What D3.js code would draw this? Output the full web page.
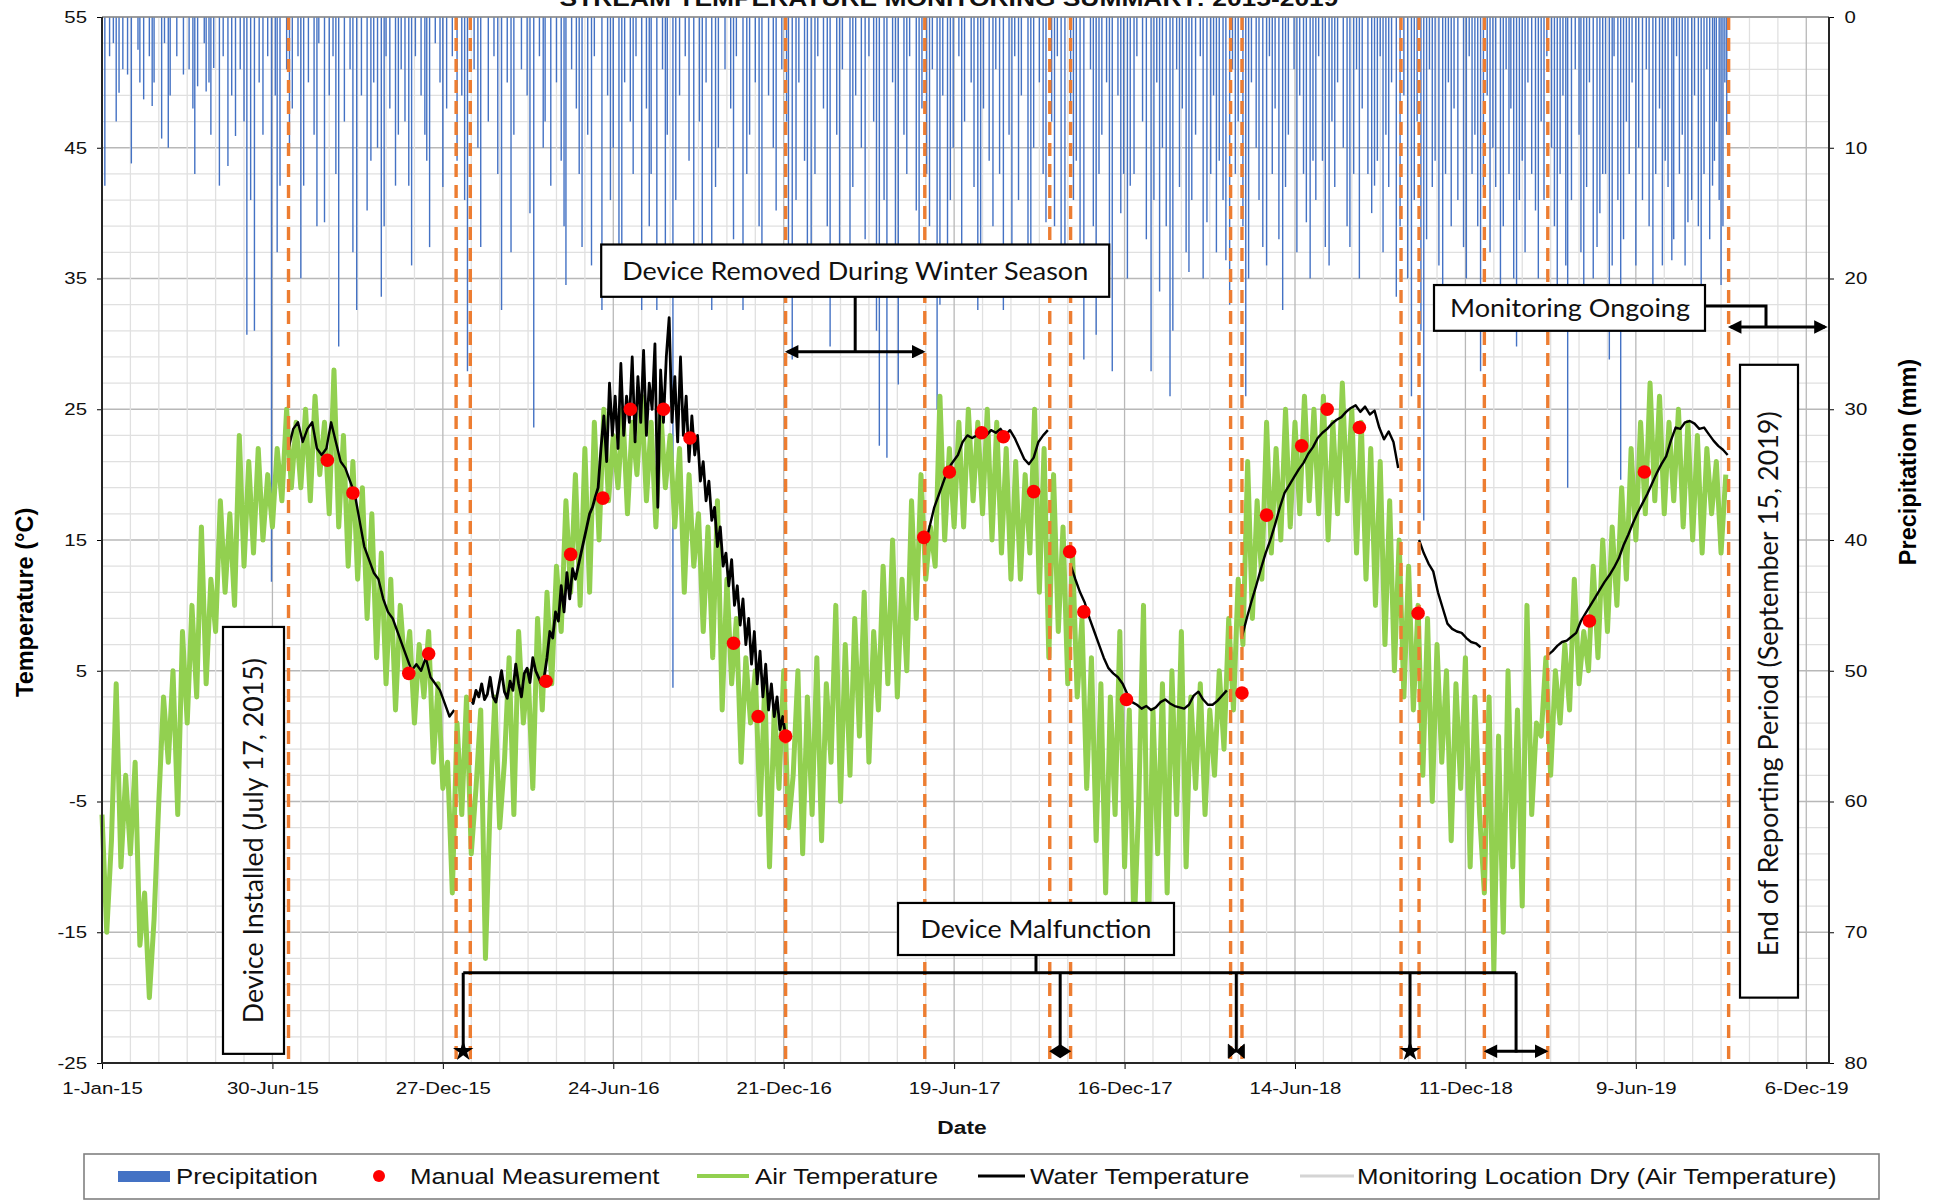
<!DOCTYPE html>
<html>
<head>
<meta charset="utf-8">
<title>Stream Temperature Monitoring Summary</title>
<script src="https://cdn.jsdelivr.net/npm/d3@7"></script>
<style>
  body { margin: 0; background: #fff; }
  svg { display: block; font-family: "Liberation Sans", Arial, sans-serif; }
  .note { font-family: Lato, "Open Sans", sans-serif; fill: #111; }
</style>
</head>
<body>
<svg id="chart" width="1942" height="1201"></svg>
<script>
// air temperature, one reading every 5 days from 1-Jan-15
const airStep = 5
const airTemp = [
  -6, -15, -8, 4, -10, -3,   -9, -2, -16, -12, -20, -14,   -5, 3, -2, 5, -6, 8,
  1, 10, 3, 16, 4, 12,   8, 18, 11, 17, 10, 23,   13, 21, 14, 22, 15, 20,
  16, 22, 18, 25, 19, 24,   19, 25, 18, 26, 20, 24,   17, 28, 16, 23, 13, 21,
  12, 19, 9, 17, 6, 14,   4, 12, 2, 10, 5, 8,   1, 7, 3, 8, -2, 4, -4,
  -2, -12, 1, -6, 3, -9,   -4, 2, -17, -5, 3, -7,   -2, 6, -6, 8, 1, 5,
  -4, 9, 2, 11, 4, 13,   8, 18, 11, 20, 10, 22,   11, 24, 15, 25, 18, 23,
  19, 25, 17, 24, 20, 26,   18, 24, 16, 25, 19, 23,   16, 22, 11, 20, 13, 17,
  8, 16, 6, 18, 2, 12,   4, 9, -2, 6, 1, 5,   -6, 4, -10, 2, -4, 5, -7,
  -3, 5, -9, 3, -6, 6,   -8, 4, -2, 10, -5, 7,   -3, 9, 0, 11, -2, 8,
  2, 13, 4, 15, 3, 12,   5, 18, 9, 20, 12, 16,   13, 26, 15, 22, 16, 24,
  16, 25, 18, 24, 17, 25,   15, 24, 14, 22, 12, 21,   12, 20, 14, 25, 11, 22,
  6, 20, 8, 16, 4, 14,   3, 9, -4, 6, -8, 4,   -12, 3, -6, 8, -10, 2, -15,
  -5, 10, -16, 2, -9, 4,   -12, 5, -6, 8, -10, 3,   -4, 4, -6, 2, -3, 5,
  -1, 9, 2, 12, 7, 21,   9, 18, 12, 24, 14, 22,   15, 25, 16, 24, 17, 26,
  18, 25, 17, 26, 15, 24,   17, 27, 18, 25, 14, 24,   12, 22, 10, 21, 7, 18,
  5, 15, 3, 13, 2, 10,   -3, 9, -5, 7, -2, 5,   -8, 4, -4, 6, -10, 3, -6,
  -12, 3, -18, 0, -15, 5,   -10, 2, -13, 10, -6, 1,   0, 6, -3, 5, 1, 7,
  2, 12, 4, 8, 5, 13,   6, 15, 8, 16, 10, 19,   12, 22, 15, 24, 17, 27,
  18, 26, 17, 24, 18, 25,   16, 24, 15, 23, 14, 22,   17, 21, 14, 20
]

// water temperature logger, one run per deployment
const waterStarts = ['2015-07-17', '2016-01-25', '2017-05-19', '2017-10-20', '2018-04-19', '2018-10-23', '2019-03-08']
const waterSteps = [5, 3, 5, 5, 5, 5, 5]
const waterTemps = [
  [22, 23.5, 24, 22.5, 23.5, 24, 22, 21.5, 22, 24, 22.5, 21, 20.5, 19.5, 18.5, 16.5, 14.5, 13.5,
   12.5, 12, 10.5, 9.5, 9, 8, 7, 6, 5, 5.5, 5, 6, 4.5, 4, 3.5, 2.5, 1.5, 2],
  [3, 2.5, 3.5, 3, 4, 2.8, 3.2, 4.5, 3, 2.6, 3.8, 5, 3.4, 2.9, 4.2, 3.5, 5.5, 4, 3, 4.8, 5.2, 4.1, 6, 5, 4.5, 4,
   4.5, 6, 8, 7.5, 9.5, 8.8, 11.5, 9.5, 12.5, 10.5, 12.8, 12, 13, 14, 15, 16, 17, 17.5, 18.3, 19,
   22, 24.5, 21, 27, 23, 26, 22, 28.5, 23, 26, 24, 29, 22.5, 27.5, 24, 29.5, 23, 27, 25, 30,
   17.5, 28, 24, 29, 32, 24, 27.5, 22.5, 29, 23, 26, 21, 24.5, 21.5, 23, 19.5, 21, 18, 19.5, 16.5,
   17.5, 14.5, 16, 13, 14, 11.5, 13.5, 10, 11.5, 8.5, 10.5, 7, 9, 5.5, 8, 4, 6.5, 3, 5.5, 2, 4,
   1.5, 3, 0.5, 1.5, 0],
  [14.5, 16, 17.5, 18.5, 19.5, 20.5, 21, 21.5, 22.5, 23, 22.8, 23, 23.3, 23, 23.4, 23.2, 23.5, 23,
   23.4, 22.8, 22, 21.2, 20.8, 21.3, 22.5, 23, 23.4],
  [13.1, 12, 11, 10.2, 9, 8, 7, 6, 5.2, 4.8, 4.5, 4, 3.2, 2.6, 2.4, 2.1, 2.3, 2, 2.2, 2.6, 2.8, 2.5,
   2.3, 2.2, 2.1, 2.4, 3.1, 3.4, 2.8, 2.4, 2.4, 2.7, 3.1, 3.5],
  [7.6, 9, 10.3, 11.5, 12.8, 14, 15, 16.2, 17.5, 18.6, 19.2, 19.8, 20.4, 20.9, 21.6, 22.1, 22.8, 23.2,
   23.5, 23.9, 24.2, 24.4, 24.8, 25.1, 25.3, 24.8, 25.2, 24.6, 24.9, 23.6, 22.7, 23.3, 22.5, 20.5],
  [15, 14, 13.2, 12.6, 11, 9.8, 8.6, 8.2, 8, 7.9, 7.5, 7.2, 7.1, 6.8],
  [6.2, 6.5, 6.9, 7.2, 7.3, 7.6, 7.9, 8.8, 9.4, 10, 10.6, 11.2, 11.8, 12.3, 12.9, 13.6, 14.6, 15.4,
   16.3, 17.1, 17.8, 18.5, 19.3, 20.1, 20.8, 21.4, 22.6, 23.6, 23.5, 24, 24.1, 23.9, 23.5, 23.6,
   23.1, 22.6, 22.2, 21.9, 21.5]
]

const manualDates = ['2015-08-27', '2015-09-23', '2015-11-21', '2015-12-12', '2016-04-14', '2016-05-10',
  '2016-06-13', '2016-07-12', '2016-08-16', '2016-09-13', '2016-10-29', '2016-11-24', '2016-12-23',
  '2017-05-18', '2017-06-14', '2017-07-18', '2017-08-10', '2017-09-11', '2017-10-19', '2017-11-03',
  '2017-12-18', '2018-04-19', '2018-05-15', '2018-06-21', '2018-07-18', '2018-08-21', '2018-10-22',
  '2019-04-21', '2019-06-18']
const manualTemps = [21.1, 18.6, 4.8, 6.3, 4.2, 13.9, 18.2, 25, 25, 22.8, 7.1, 1.5, 0,
  15.2, 20.2, 23.2, 22.9, 18.7, 14.1, 9.5, 2.8, 3.3, 16.9, 22.2, 25, 23.6, 9.4, 8.8, 20.2]

// [days since 1-Jan-15, mm]
const precipitation = [
  [3, 12.9], [8, 3], [12, 2], [15, 8], [18, 5.8], [22, 4], [27, 4.4], [31, 11.2], [38, 2.5], [40, 5],
  [44, 6.3], [50, 3], [53, 6.8], [55, 5], [63, 9.3], [66, 2], [70, 10], [72, 6], [79, 3], [86, 4.4],
  [92, 4], [96, 7], [98, 12], [101, 5.3], [108, 2], [110, 5.7], [113, 5], [115, 9], [118, 3.9],
  [124, 12.9], [128, 3], [133, 11.4], [137, 6], [141, 9.1], [146, 4], [150, 8], [153, 24.3], [157, 14],
  [161, 24], [166, 5], [170, 9], [175, 3], [179, 43.2], [183, 6], [185, 18], [188, 12.9], [195, 4],
  [198, 10], [201, 7], [207, 3], [210, 20], [213, 12.9], [218, 5], [224, 9], [227, 16], [229, 2],
  [235, 15.7], [240, 6], [244, 3], [247, 12], [250, 25.2], [256, 8], [262, 4], [265, 18], [269, 22.4],
  [274, 6], [280, 14.8], [284, 11], [287, 5], [291, 10], [295, 21.4], [298, 16], [300, 3], [304, 7],
  [310, 12.9], [313, 9], [316, 4], [320, 8], [324, 12.9], [327, 19], [331, 3], [337, 6], [341, 9],
  [343, 11], [346, 17.6], [352, 2], [357, 5], [360, 13], [364, 7], [370, 3], [375, 11], [380, 6],
  [383, 14], [386, 27.1], [393, 4], [397, 10], [400, 17.6], [408, 8], [414, 3], [418, 12], [422, 22.4],
  [428, 5], [432, 18], [435, 9], [443, 4], [449, 6], [452, 15], [456, 31.4], [462, 3], [466, 10],
  [468, 8], [474, 12.9], [480, 5], [485, 11], [488, 16], [490, 20.5], [496, 4], [501, 7], [504, 12],
  [507, 17.6], [513, 9], [517, 19], [520, 3], [528, 22.4], [534, 6], [537, 14], [540, 10], [546, 17.6],
  [549, 20], [552, 5], [558, 8], [561, 12], [564, 3], [570, 22.4], [575, 7], [578, 16], [580, 12],
  [586, 22.4], [592, 4], [595, 18], [597, 9], [603, 51.3], [606, 14], [610, 6], [616, 3], [620, 11],
  [625, 17.6], [631, 8], [634, 19], [638, 5], [644, 22.4], [648, 13], [651, 10], [658, 4], [664, 7],
  [667, 17], [670, 3], [677, 22.4], [681, 12], [684, 9], [690, 5], [694, 16], [697, 20.5], [704, 6],
  [709, 10], [712, 14.8], [718, 4], [723, 8], [725, 18], [729, 26.2], [733, 14], [736, 5], [742, 11],
  [745, 19], [749, 21.4], [753, 12], [756, 3], [762, 7], [766, 16], [769, 25.2], [776, 9], [779, 20],
  [782, 4], [790, 18.6], [793, 13], [796, 6], [802, 10], [806, 17], [810, 3], [815, 8], [818, 24],
  [821, 32.8], [826, 14], [829, 33.7], [835, 5], [838, 18], [841, 28.1], [847, 9], [850, 12], [853, 3],
  [860, 14.8], [863, 20], [866, 7], [871, 12], [874, 16], [877, 4], [882, 30], [885, 22], [888, 6],
  [893, 17.6], [896, 14], [899, 10], [905, 3], [908, 18], [911, 8], [918, 5], [921, 13], [925, 22.4],
  [928, 20], [931, 7], [937, 11], [941, 16], [944, 4], [948, 12], [952, 22.4], [958, 9], [961, 19],
  [964, 3], [968, 14], [971, 6], [978, 17.6], [981, 21], [984, 10], [990, 5], [994, 12], [997, 15.7],
  [1003, 8], [1006, 16], [1009, 3], [1013, 20], [1017, 17.6], [1023, 7], [1026, 14], [1029, 11],
  [1033, 19], [1037, 26.2], [1044, 4], [1047, 16], [1050, 24.3], [1053, 12], [1056, 9], [1061, 5],
  [1064, 19], [1067, 27.1], [1073, 6], [1076, 15], [1079, 12], [1083, 20], [1086, 12.9], [1090, 12],
  [1093, 3], [1099, 8], [1103, 17], [1108, 27.1], [1111, 14], [1114, 5], [1117, 21], [1120, 10],
  [1124, 16], [1128, 29], [1131, 24], [1135, 4], [1138, 13], [1141, 7], [1145, 18], [1148, 19.5],
  [1151, 14], [1155, 9], [1160, 3], [1163, 20], [1167, 15.7], [1171, 12], [1174, 6], [1177, 18],
  [1180, 11], [1184, 14], [1187, 18.6], [1191, 22], [1194, 4], [1197, 12], [1200, 8], [1205, 16],
  [1208, 29], [1211, 20], [1214, 5], [1219, 10], [1222, 14], [1226, 17.6], [1230, 19], [1233, 3],
  [1236, 12], [1239, 7], [1243, 17], [1247, 22.4], [1250, 13], [1253, 9], [1259, 4], [1262, 18],
  [1265, 6], [1269, 12], [1272, 15.7], [1276, 20], [1279, 11], [1282, 14], [1285, 3], [1289, 11],
  [1292, 17.6], [1296, 19], [1299, 8], [1302, 13], [1305, 5], [1311, 10], [1315, 16], [1318, 17.6],
  [1322, 12], [1325, 4], [1328, 20], [1331, 7], [1337, 12], [1341, 15], [1344, 12.9], [1347, 11],
  [1350, 3], [1353, 18], [1356, 9], [1359, 13], [1362, 5], [1367, 21.4], [1371, 16], [1375, 6],
  [1379, 20], [1383, 29], [1386, 14], [1389, 8], [1393, 24], [1396, 38.5], [1399, 17], [1402, 4],
  [1405, 13], [1408, 11], [1412, 19], [1416, 22.4], [1419, 12], [1422, 5], [1425, 16], [1428, 7],
  [1432, 14], [1438, 17.6], [1441, 20], [1444, 3], [1447, 12], [1450, 9], [1453, 16], [1456, 27.1],
  [1459, 13], [1463, 6], [1466, 18], [1469, 10], [1472, 13], [1477, 22.4], [1480, 16], [1483, 4],
  [1486, 12], [1488, 7], [1491, 20], [1494, 25.2], [1497, 14], [1500, 11], [1503, 18], [1506, 5],
  [1510, 12], [1514, 14.8], [1517, 20], [1520, 8], [1523, 14], [1526, 3], [1531, 10], [1534, 16],
  [1537, 23.3], [1540, 12], [1543, 6], [1546, 19], [1548, 36], [1552, 14], [1556, 4], [1560, 9],
  [1562, 18], [1565, 22.4], [1568, 13], [1571, 5], [1575, 20], [1579, 17.6], [1582, 15], [1585, 12],
  [1588, 12], [1592, 26.2], [1595, 19], [1597, 3], [1601, 14], [1604, 35.4], [1607, 17], [1610, 8],
  [1613, 12], [1616, 5], [1620, 19], [1623, 10], [1627, 14], [1631, 4], [1634, 16], [1638, 23.3],
  [1641, 12], [1645, 7], [1648, 19], [1651, 11], [1654, 13], [1658, 18.6], [1660, 17], [1663, 3],
  [1666, 12], [1669, 9], [1672, 19], [1675, 15.7], [1679, 14], [1682, 6], [1686, 16], [1689, 21.4],
  [1692, 12], [1695, 4], [1698, 17], [1701, 12.9], [1703, 11], [1705, 8], [1708, 14], [1710, 20.5],
  [1712, 16], [1714, 5], [1716, 9]
]

// orange dashed event lines
const eventDates = ['2015-07-17', '2016-01-10', '2016-01-25', '2016-12-23', '2017-05-19', '2017-09-28',
  '2017-10-20', '2018-04-07', '2018-04-19', '2018-10-04', '2018-10-23', '2018-12-31', '2019-03-08',
  '2019-09-15']

const xTickDays = d3.range(0, 1801, 180)
const tempTicks = d3.range(-25, 56, 10)
const precipTicks = d3.range(0, 81, 10)

const legendItems = ['Precipitation', 'Manual Measurement', 'Air Temperature', 'Water Temperature',
  'Monitoring Location Dry (Air Temperature)']

// ---------------------------------------------------------------------------

const pL = 102, pR = 1829, pT = 17, pB = 1063
const start = new Date(2015, 0, 1)
const day = n => d3.timeDay.offset(start, n)
const parse = d3.timeParse('%Y-%m-%d')
const sx = 1.2   // the source text is a little wide

const x = d3.scaleTime().domain([start, day(1824)]).range([pL, pR])
const yT = d3.scaleLinear().domain([-25, 55]).range([pB, pT])
const yP = d3.scaleLinear().domain([0, 80]).range([pT, pB])

const svg = d3.select('#chart')

const defs = svg.append('defs')
defs.append('marker')
  .attr('id', 'arrow')
  .attr('viewBox', '0 0 10 10')
  .attr('refX', 8).attr('refY', 5)
  .attr('markerWidth', 5.5).attr('markerHeight', 4.5)
  .attr('orient', 'auto-start-reverse')
  .append('path').attr('d', 'M0,0L10,5L0,10z').attr('fill', '#000')

// grid
const grid = svg.append('g')
grid.selectAll('line.h').data(d3.range(-25, 56, 2)).join('line')
  .attr('x1', pL).attr('x2', pR)
  .attr('y1', d => yT(d)).attr('y2', d => yT(d))
  .attr('stroke', d => (d + 25) % 10 === 0 ? '#b8b8b8' : '#e0e0e0')
  .attr('stroke-width', 1.3)
grid.selectAll('line.v').data(d3.range(30, 1824, 30)).join('line')
  .attr('x1', d => x(day(d))).attr('x2', d => x(day(d)))
  .attr('y1', pT).attr('y2', pB)
  .attr('stroke', d => d % 180 === 0 ? '#b8b8b8' : '#e0e0e0')
  .attr('stroke-width', 1.3)

// precipitation hangs from the top
svg.append('g').selectAll('line').data(precipitation).join('line')
  .attr('x1', d => x(day(d[0]))).attr('x2', d => x(day(d[0])))
  .attr('y1', yP(0)).attr('y2', d => yP(d[1]))
  .attr('stroke', '#4472c4').attr('stroke-width', 1.4)

// air temperature
const airLine = d3.line()
  .x((d, i) => x(day(i * airStep)))
  .y(d => yT(d))
svg.append('path').datum(airTemp)
  .attr('d', airLine)
  .attr('fill', 'none').attr('stroke', '#92d050')
  .attr('stroke-width', 5).attr('stroke-linejoin', 'round')

// water temperature
waterTemps.forEach((vals, k) => {
  const s = parse(waterStarts[k])
  const line = d3.line()
    .x((d, i) => x(d3.timeDay.offset(s, i * waterSteps[k])))
    .y(d => yT(d))
  svg.append('path').datum(vals)
    .attr('d', line)
    .attr('fill', 'none').attr('stroke', '#000')
    .attr('stroke-width', k === 1 ? 2.8 : 2.4).attr('stroke-linejoin', 'round')
})

// event lines
svg.append('g').selectAll('line').data(eventDates).join('line')
  .attr('x1', d => x(parse(d))).attr('x2', d => x(parse(d)))
  .attr('y1', pT).attr('y2', pB)
  .attr('stroke', '#ed7d31').attr('stroke-width', 3.4)
  .attr('stroke-dasharray', '13 8')

// manual measurements
svg.append('g').selectAll('circle').data(manualDates).join('circle')
  .attr('cx', d => x(parse(d)))
  .attr('cy', (d, i) => yT(manualTemps[i]))
  .attr('r', 6.8).attr('fill', '#ff0000')

// axes
const stretch = sel => sel.selectAll('text').attr('transform', `scale(${sx},1)`)
svg.append('g')
  .attr('transform', `translate(${pL},0)`)
  .call(d3.axisLeft(yT).tickValues(tempTicks).tickFormat(d => String(d)).tickSize(5).tickPadding(7.5))
  .call(g => g.select('.domain').remove())
  .call(g => g.selectAll('text').attr('font-size', 17).attr('fill', '#111'))
  .call(stretch)
svg.append('g')
  .attr('transform', `translate(${pR},0)`)
  .call(d3.axisRight(yP).tickValues(precipTicks).tickSize(5).tickPadding(8))
  .call(g => g.select('.domain').remove())
  .call(g => g.selectAll('text').attr('font-size', 17).attr('fill', '#111'))
  .call(stretch)
svg.append('g')
  .attr('transform', `translate(0,${pB})`)
  .call(d3.axisBottom(x).tickValues(xTickDays.map(day)).tickFormat(d3.timeFormat('%-d-%b-%y'))
    .tickSize(6).tickPadding(13))
  .call(g => g.select('.domain').remove())
  .call(g => g.selectAll('text').attr('font-size', 17).attr('fill', '#111'))
  .call(stretch)

svg.append('line').attr('x1', pL).attr('x2', pR).attr('y1', pT).attr('y2', pT)
  .attr('stroke', '#8c8c8c').attr('stroke-width', 1.5)
svg.append('path')
  .attr('d', `M${pL},${pT}V${pB}H${pR}V${pT}`)
  .attr('fill', 'none').attr('stroke', '#262626').attr('stroke-width', 2)

function wide(str, px, py, size, anchor, weight) {
  return svg.append('text')
    .attr('transform', `translate(${px},${py}) scale(${sx},1)`)
    .attr('text-anchor', anchor).attr('font-size', size)
    .attr('font-weight', weight || 'normal').attr('fill', '#111')
    .text(str)
}

// titles (the chart title sits partly above the page edge, as in the source)
wide('STREAM TEMPERATURE MONITORING SUMMARY: 2015-2019', 949, 6, 22, 'middle', 'bold')
wide('Date', 962, 1134, 19, 'middle', 'bold')
svg.append('text')
  .attr('transform', `translate(33,${(yT(15) + yT(5)) / 2 - 3}) rotate(-90)`)
  .attr('text-anchor', 'middle').attr('font-size', 23.5).attr('font-weight', 'bold')
  .text('Temperature (°C)')
svg.append('text')
  .attr('transform', `translate(1916,${yP(40) - 78}) rotate(-90)`)
  .attr('text-anchor', 'middle').attr('font-size', 23.5).attr('font-weight', 'bold')
  .text('Precipitation (mm)')

// annotations
function box(x0, x1, y0, y1) {
  svg.append('rect')
    .attr('x', x0).attr('y', y0).attr('width', x1 - x0).attr('height', y1 - y0)
    .attr('fill', '#fff').attr('stroke', '#000').attr('stroke-width', 2.2)
}
function note(str, px, py, len, size, rotate) {
  return svg.append('text').attr('class', 'note')
    .attr('transform', `translate(${px},${py})` + (rotate ? ' rotate(-90)' : ''))
    .attr('text-anchor', 'middle').attr('font-size', size)
    .attr('textLength', len).attr('lengthAdjust', 'spacingAndGlyphs')
    .text(str)
}
function path(d, arrows) {
  const p = svg.append('path').attr('d', d)
    .attr('fill', 'none').attr('stroke', '#000').attr('stroke-width', 3)
  if (arrows) p.attr('marker-start', 'url(#arrow)').attr('marker-end', 'url(#arrow)')
  return p
}
const ev = eventDates.map(parse)
const mid = (a, b) => (x(a) + x(b)) / 2

// device installed
box(223, 284, yT(8.35), yT(-24.3))
note('Device Installed (July 17, 2015)', 263, yT(-8), 365, 26, true)

// removed during winter
const remX = mid(ev[3], ev[4])
box(remX - 254, remX + 254, yT(37.6), yT(33.6))
note('Device Removed During Winter Season', remX, yT(35.6) + 9, 466, 25)
path(`M${remX},${yT(33.6)}V${yT(29.4)}`)
path(`M${x(ev[3]) + 2},${yT(29.4)}H${x(ev[4]) - 2}`, true)

// monitoring ongoing
box(1434, 1705, yT(34.5), yT(31))
note('Monitoring Ongoing', 1570, yT(32.75) + 9, 240, 25)
path(`M1705,${yT(32.9)}H1766V${yT(31.3)}`)
path(`M${x(ev[13]) + 2},${yT(31.3)}H1825`, true)

// end of reporting period
box(1740, 1798, yT(28.4), yT(-20))
note('End of Reporting Period (September 15, 2019)', 1778, yT(4), 545, 26, true)

// device malfunction
const malX = [mid(ev[1], ev[2]), mid(ev[5], ev[6]), mid(ev[7], ev[8]), mid(ev[9], ev[10]), mid(ev[11], ev[12])]
box(898, 1174, yT(-12.76), yT(-16.74))
note('Device Malfunction', 1036, yT(-14.75) + 9, 231, 25)
path(`M1036,${yT(-16.74)}V${yT(-18.1)}`)
path(`M${malX[0]},${yT(-18.1)}H${malX[4]}`)
malX.forEach(mx => path(`M${mx},${yT(-18.1)}V${yT(-24.2)}`))
path(`M${x(ev[11]) + 2},${yT(-24.1)}H${x(ev[12]) - 2}`, true)
const yEnd = yT(-24.1)
svg.append('path').attr('d', d3.symbol(d3.symbolStar, 130)())
  .attr('transform', `translate(${malX[0]},${yEnd})`).attr('fill', '#000')
svg.append('path').attr('d', 'M-11,0L0,-7L11,0L0,7Z')
  .attr('transform', `translate(${malX[1]},${yEnd})`).attr('fill', '#000')
svg.append('path').attr('d', 'M-8,-7L0,0L-8,7ZM8,-7L0,0L8,7Z')
  .attr('transform', `translate(${malX[2]},${yEnd})`).attr('fill', '#000')
  .attr('stroke', '#000').attr('stroke-width', 1)
svg.append('path').attr('d', d3.symbol(d3.symbolStar, 130)())
  .attr('transform', `translate(${malX[3]},${yEnd})`).attr('fill', '#000')

// legend
const lg = svg.append('g')
lg.append('rect').attr('x', 84).attr('y', 1154).attr('width', 1795).attr('height', 45)
  .attr('fill', '#fff').attr('stroke', '#808080').attr('stroke-width', 1.6)
lg.append('rect').attr('x', 118).attr('y', 1171).attr('width', 52).attr('height', 11).attr('fill', '#4472c4')
lg.append('circle').attr('cx', 379).attr('cy', 1176).attr('r', 6).attr('fill', '#ff0000')
lg.append('line').attr('x1', 697).attr('x2', 749).attr('y1', 1176).attr('y2', 1176)
  .attr('stroke', '#92d050').attr('stroke-width', 4)
lg.append('line').attr('x1', 978).attr('x2', 1025).attr('y1', 1176).attr('y2', 1176)
  .attr('stroke', '#000').attr('stroke-width', 3)
lg.append('line').attr('x1', 1300).attr('x2', 1354).attr('y1', 1176).attr('y2', 1176)
  .attr('stroke', '#d4d4d4').attr('stroke-width', 3)
const legendX = [176, 410, 755, 1030, 1357]
legendItems.forEach((t, i) => wide(t, legendX[i], 1184, 21.5, 'start'))
</script>
</body>
</html>
